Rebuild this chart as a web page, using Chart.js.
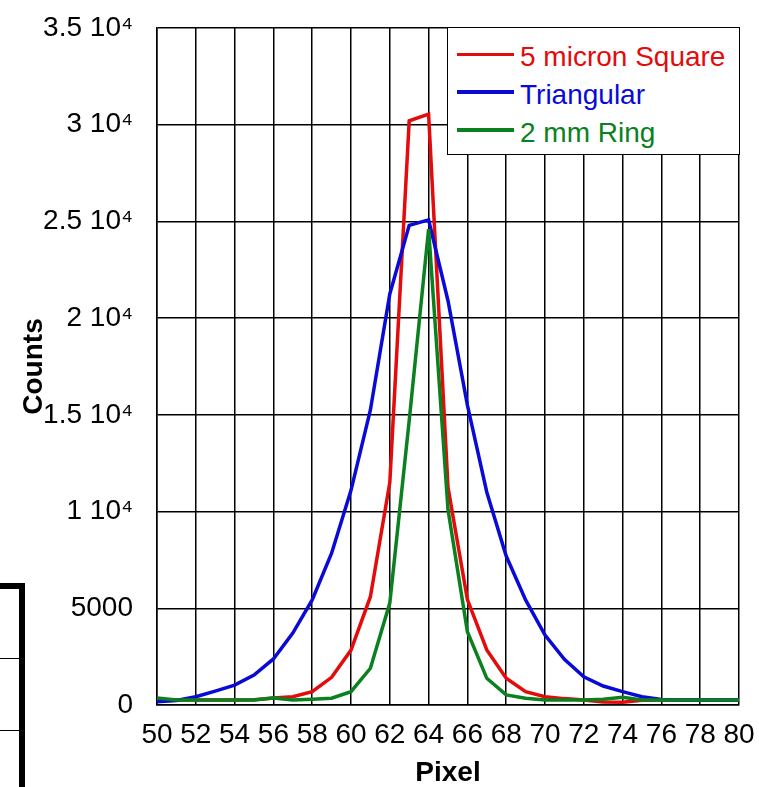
<!DOCTYPE html>
<html>
<head>
<meta charset="utf-8">
<script src="https://cdn.jsdelivr.net/npm/chart.js@4.4.0/dist/chart.umd.min.js"></script>
<style>
  body { margin: 0; background: #fff; }
  #wrap { position: relative; width: 759px; height: 787px; overflow: hidden; }
  #c { position: absolute; left: 0; top: 0; }
  #legend { position: absolute; left: 447px; top: 27px; width: 293px; height: 128px;
            border: 1.5px solid #000; background: #fff; box-sizing: border-box;
            font-family: "Liberation Sans", Arial, sans-serif; font-size: 28px; }
  .row { position: absolute; left: 0; height: 28px; line-height: 28px; white-space: nowrap; }
  .row .ln { position: absolute; left: 9px; top: 9.5px; width: 57px; height: 3.5px; }
  .row .tx { position: absolute; left: 72px; top: 0; }
  #frag { position: absolute; left: -10px; top: 583px; width: 29px; height: 220px;
          border-top: 6px solid #000; border-right: 6px solid #000; }
  #frag div { position: absolute; left: 0; width: 29px; height: 0; border-top: 1.5px solid #000; }
</style>
</head>
<body>
<div id="wrap">
  <canvas id="c" width="759" height="787"></canvas>
  <div id="frag"><div style="top:69px"></div><div style="top:141px"></div></div>
  <div id="legend"></div>
</div>
<script>
const pixels = [50, 51, 52, 53, 54, 55, 56, 57, 58, 59, 60, 61, 62, 63, 64, 65,
                66, 67, 68, 69, 70, 71, 72, 73, 74, 75, 76, 77, 78, 79, 80];

const squareCounts = [260, 260, 260, 260, 260, 270, 360, 430, 690, 1430, 2840, 5600, 11500, 30200, 30550, 11250,
                      5450, 2850, 1380, 690, 430, 330, 260, 150, 140, 250, 260, 260, 260, 260, 260];

const triangularCounts = [170, 230, 430, 720, 1030, 1550, 2380, 3720, 5430, 7850, 11100, 15250, 21250, 24800, 25080, 20900,
                          15500, 11000, 7700, 5430, 3620, 2360, 1460, 980, 690, 430, 290, 260, 260, 260, 260];

const ringCounts = [360, 260, 260, 260, 260, 260, 360, 260, 300, 350, 690, 1900, 5270, 14700, 24600, 10100,
                    3790, 1380, 520, 350, 260, 260, 260, 300, 400, 260, 260, 260, 260, 260, 260];

const seriesNames = ['5 micron Square', 'Triangular', '2 mm Ring'];
const seriesColors = ['#e30b0b', '#0a0ad6', '#0a801e'];

const yTickLabels = ['0', '5000', '1 10\u2074', '1.5 10\u2074', '2 10\u2074', '2.5 10\u2074', '3 10\u2074', '3.5 10\u2074'];

const font = '"Liberation Sans", Arial, sans-serif';
const toPoints = arr => arr.map((v, i) => ({ x: pixels[i], y: v }));
const allSeries = [squareCounts, triangularCounts, ringCounts];

// drop the label overhang padding so the plot area sits where the layout padding says
const noOverhang = s => { s.paddingTop = 0; s.paddingBottom = 0; s.paddingLeft = 0; s.paddingRight = 0; };

new Chart(document.getElementById('c').getContext('2d'), {
  type: 'line',
  data: {
    datasets: allSeries.map((s, i) => ({
      label: seriesNames[i],
      data: toPoints(s),
      borderColor: seriesColors[i],
      borderWidth: 3.5,
      pointRadius: 0,
      tension: 0,
      fill: false,
      order: 3 - i
    }))
  },
  options: {
    responsive: false,
    animation: false,
    layout: { padding: { top: 28, right: 20, bottom: 0, left: 0 } },
    plugins: { legend: { display: false }, tooltip: { enabled: false } },
    scales: {
      x: {
        type: 'linear', min: 50, max: 80,
        ticks: { stepSize: 2, color: '#000', font: { family: font, size: 28 }, padding: 13, maxRotation: 0, autoSkip: false },
        grid: { color: '#000', lineWidth: 1.5, drawTicks: false },
        border: { color: '#000', width: 1.5 },
        title: { display: true, text: 'Pixel', color: '#000',
                 font: { family: font, size: 28, weight: 'bold', lineHeight: 1 }, padding: { top: 0, bottom: 0 } },
        afterFit: s => { s.height = 82; noOverhang(s); }
      },
      y: {
        min: 0, max: 35000,
        ticks: { stepSize: 5000, color: '#000', font: { family: font, size: 28 }, padding: 24,
                 callback: (v, i) => yTickLabels[i] },
        grid: { color: '#000', lineWidth: 1.5, drawTicks: false },
        border: { color: '#000', width: 1.5 },
        title: { display: true, text: 'Counts', color: '#000',
                 font: { family: font, size: 28, weight: 'bold', lineHeight: 1 }, padding: { top: 20, bottom: 0 } },
        afterFit: s => { s.width = 157; noOverhang(s); }
      }
    }
  }
});

// legend box inside the plot
const legend = document.getElementById('legend');
seriesNames.forEach((name, i) => {
  const row = document.createElement('div');
  row.className = 'row';
  row.style.top = (15.3 + 37.6 * i) + 'px';
  row.style.width = '100%';
  row.innerHTML = '<div class="ln" style="background:' + seriesColors[i] + '"></div>' +
                  '<div class="tx" style="color:' + seriesColors[i] + '">' + name + '</div>';
  legend.appendChild(row);
});
</script>
</body>
</html>
